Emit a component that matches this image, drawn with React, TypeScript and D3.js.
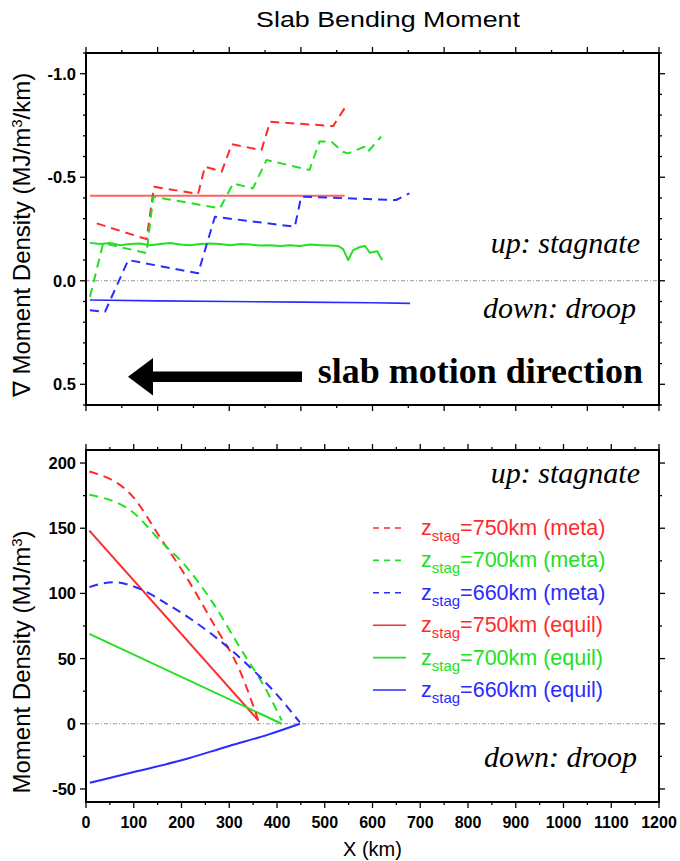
import React from 'react';
import * as d3 from 'd3';

// ---------- data ----------
// Top panel: gradient of moment density (x in plot units 0..1600, y in MJ/m^3/km)
const topRedMetaX = [30, 169, 190, 313, 332, 379, 407, 490, 514, 690, 722];
const topRedMetaY = [-0.277, -0.201, -0.454, -0.419, -0.551, -0.527, -0.66, -0.631, -0.768, -0.747, -0.833];
const topGreenMetaX = [11, 48, 169, 188, 374, 411, 466, 504, 624, 652, 685, 717, 731, 778, 787, 824];
const topGreenMetaY = [0.077, -0.181, -0.134, -0.406, -0.35, -0.47, -0.446, -0.583, -0.535, -0.672, -0.672, -0.623, -0.615, -0.647, -0.623, -0.696];
const topBlueMetaX = [11, 53, 118, 313, 360, 583, 601, 866, 903];
const topBlueMetaY = [0.142, 0.15, -0.1, -0.036, -0.309, -0.261, -0.406, -0.39, -0.422];
const topRedEquilX = [11, 722];
const topRedEquilY = [-0.411, -0.411];
const topGreenEquilX = [11, 39, 67, 95, 123, 151, 179, 207, 235, 263, 291, 318, 346, 374, 402, 430, 458, 486, 514, 542, 570, 598, 626, 654, 682, 704, 718, 732, 746, 765, 779, 793, 813, 827];
const topGreenEquilY = [-0.183, -0.177, -0.182, -0.172, -0.177, -0.18, -0.172, -0.177, -0.182, -0.175, -0.172, -0.177, -0.18, -0.177, -0.172, -0.177, -0.175, -0.17, -0.172, -0.168, -0.172, -0.168, -0.175, -0.172, -0.17, -0.168, -0.153, -0.1, -0.148, -0.163, -0.168, -0.135, -0.143, -0.1];
const topBlueEquilX = [11, 200, 400, 600, 800, 905];
const topBlueEquilY = [0.093, 0.097, 0.1, 0.103, 0.106, 0.109];

// Bottom panel: moment density (x in km, y in MJ/m^3)
const botRedMetaX = [7, 99, 155, 211, 267, 322, 361];
const botRedMetaY = [193.5, 173.8, 143, 112, 76.7, 40.9, 2.5];
const botGreenMetaX = [7, 99, 155, 211, 267, 322, 378, 410];
const botGreenMetaY = [175.6, 162, 140.6, 120, 92, 58.7, 25.5, 2.5];
const botBlueMetaX = [7, 57, 113, 169, 224, 280, 336, 392, 448];
const botBlueMetaY = [104.8, 108.6, 103.5, 92, 79.2, 63.9, 46, 25.5, 1];
const botRedEquilX = [7, 361];
const botRedEquilY = [148.2, 2.5];
const botGreenEquilX = [7, 410];
const botGreenEquilY = [69, 0];
const botBlueEquilX = [8, 100, 200, 300, 380, 448];
const botBlueEquilY = [-45.3, -37, -28, -17, -8.5, 0];

const legendLabels = ['750km (meta)', '700km (meta)', '660km (meta)', '750km (equil)', '700km (equil)', '660km (equil)'];
const legendColors = ['#ff2b2b', '#22e022', '#2b2bff', '#ff2b2b', '#22e022', '#2b2bff'];
const legendDashed = [true, true, true, false, false, false];

const topYTickLabels = [-1.0, -0.5, 0.0, 0.5];
const botYTickLabels = [-50, 0, 50, 100, 150, 200];
const botXTickLabels = [0, 100, 200, 300, 400, 500, 600, 700, 800, 900, 1000, 1100, 1200];

function Series({ xs, ys, x, y, color, dashed, width, smooth }: any) {
  const pts: [number, number][] = xs.map((v: number, i: number) => [v, ys[i]]);
  const line = d3.line<[number, number]>().x(d => x(d[0])).y(d => y(d[1]));
  if (smooth) line.curve(d3.curveMonotoneX);
  return (
    <path d={line(pts) || ''} fill="none" stroke={color} strokeWidth={width || 2}
      strokeDasharray={dashed ? '9,6' : undefined} strokeLinejoin="round" />
  );
}

function Frame({ x, y, left, right, top, bottom, xMinor, xMajor, yMinor, yMajor }: any) {
  const els: any[] = [];
  const tk = (k: string, x1: number, y1: number, x2: number, y2: number) =>
    els.push(<line key={k} x1={x1} y1={y1} x2={x2} y2={y2} stroke="#000" strokeWidth={1.3} />);
  xMinor.forEach((v: number, i: number) => {
    const maj = xMajor.includes(v);
    const len = maj ? 6 : 3;
    tk('xt' + i, x(v), top, x(v), top - len);
    tk('xb' + i, x(v), bottom, x(v), bottom + len);
  });
  yMinor.forEach((v: number, i: number) => {
    const maj = yMajor.some((m: number) => Math.abs(m - v) < 1e-6);
    const len = maj ? 6 : 3;
    tk('yl' + i, left, y(v), left - len, y(v));
    tk('yr' + i, right, y(v), right + len, y(v));
  });
  return (
    <g>
      {els}
      <rect x={left} y={top} width={right - left} height={bottom - top} fill="none" stroke="#000" strokeWidth={2} />
    </g>
  );
}

export default function App() {
  const W = 680, H = 861;
  const L = 86, R = 659;
  const T1 = 53, B1 = 405;
  const T2 = 450, B2 = 802;
  const SANS = '"Liberation Sans", Arial, Helvetica, sans-serif';
  const SERIF = '"Liberation Serif", "Times New Roman", serif';
  const RED = '#ff2b2b';
  const GREEN = '#22e022';
  const BLUE = '#2b2bff';
  const RED_LIGHT = '#ff6262';

  const xTop = d3.scaleLinear().domain([0, 1600]).range([L, R]);
  const yTop = d3.scaleLinear().domain([-1.1, 0.6]).range([T1, B1]);
  const xBot = d3.scaleLinear().domain([0, 1200]).range([L, R]);
  const yBot = d3.scaleLinear().domain([-60, 210]).range([B2, T2]);

  const topXMinor = d3.range(0, 1601, 100);
  const topXMajor = d3.range(0, 1601, 200);
  const topYMinor = d3.range(-11, 7).map(v => v / 10);
  const botXMinor = d3.range(0, 1201, 50);
  const botYMinor = d3.range(-50, 211, 25);

  return (
    <svg width={W} height={H} style={{ position: 'absolute', left: 0, top: 0, background: '#fff' }}
      fontFamily={SANS}>
      <rect width={W} height={H} fill="#fff" />
      <text transform="translate(388,27) scale(1.22,1)" textAnchor="middle" fontSize={22}>Slab Bending Moment</text>

      {/* top panel */}
      <line x1={L} x2={R} y1={yTop(0)} y2={yTop(0)} stroke="#999" strokeWidth={1} strokeDasharray="4,2,1,2" />
      <Series xs={topRedEquilX} ys={topRedEquilY} x={xTop} y={yTop} color={RED_LIGHT} />
      <Series xs={topGreenEquilX} ys={topGreenEquilY} x={xTop} y={yTop} color={GREEN} />
      <Series xs={topBlueEquilX} ys={topBlueEquilY} x={xTop} y={yTop} color={BLUE} width={1.6} />
      <Series xs={topRedMetaX} ys={topRedMetaY} x={xTop} y={yTop} color={RED} dashed />
      <Series xs={topGreenMetaX} ys={topGreenMetaY} x={xTop} y={yTop} color={GREEN} dashed />
      <Series xs={topBlueMetaX} ys={topBlueMetaY} x={xTop} y={yTop} color={BLUE} dashed />
      <Frame x={xTop} y={yTop} left={L} right={R} top={T1} bottom={B1} xMinor={topXMinor} xMajor={topXMajor}
        yMinor={topYMinor} yMajor={topYTickLabels} />
      {topYTickLabels.map(v => (
        <text key={'tyl' + v} x={76} y={yTop(v)} dy="0.36em" textAnchor="end" fontSize={16.5} fontWeight="bold">{v.toFixed(1)}</text>
      ))}
      <text transform={`translate(30,${(T1 + B1) / 2 + 6}) rotate(-90)`} textAnchor="middle" fontSize={24}>
        ∇ Moment Density (MJ/m<tspan dy="-8" fontSize={15}>3</tspan><tspan dy="8">/km)</tspan>
      </text>
      <text x={640} y={253} textAnchor="end" fontFamily={SERIF} fontStyle="italic" fontSize={30}>up: stagnate</text>
      <text x={636} y={318} textAnchor="end" fontFamily={SERIF} fontStyle="italic" fontSize={30}>down: droop</text>
      <text x={643} y={383} textAnchor="end" fontFamily={SERIF} fontWeight="bold" fontSize={36}>slab motion direction</text>
      <rect x={150} y={371.5} width={152} height={10.5} fill="#000" />
      <polygon points="128,376.7 153,358 153,395.5" fill="#000" />

      {/* bottom panel */}
      <line x1={L} x2={R} y1={yBot(0)} y2={yBot(0)} stroke="#999" strokeWidth={1} strokeDasharray="4,2,1,2" />
      <Series xs={botRedEquilX} ys={botRedEquilY} x={xBot} y={yBot} color={RED} />
      <Series xs={botGreenEquilX} ys={botGreenEquilY} x={xBot} y={yBot} color={GREEN} />
      <Series xs={botBlueEquilX} ys={botBlueEquilY} x={xBot} y={yBot} color={BLUE} smooth />
      <Series xs={botRedMetaX} ys={botRedMetaY} x={xBot} y={yBot} color={RED} dashed smooth />
      <Series xs={botGreenMetaX} ys={botGreenMetaY} x={xBot} y={yBot} color={GREEN} dashed smooth />
      <Series xs={botBlueMetaX} ys={botBlueMetaY} x={xBot} y={yBot} color={BLUE} dashed smooth />
      <Frame x={xBot} y={yBot} left={L} right={R} top={T2} bottom={B2} xMinor={botXMinor} xMajor={botXTickLabels}
        yMinor={botYMinor} yMajor={botYTickLabels} />
      {botYTickLabels.map(v => (
        <text key={'byl' + v} x={76} y={yBot(v)} dy="0.36em" textAnchor="end" fontSize={16.5} fontWeight="bold">{v}</text>
      ))}
      {botXTickLabels.map(v => (
        <text key={'bxl' + v} x={xBot(v)} y={828} textAnchor="middle" fontSize={16} fontWeight="bold">{v}</text>
      ))}
      <text x={(L + R) / 2} y={856} textAnchor="middle" fontSize={20}>X (km)</text>
      <text transform="translate(30,662) rotate(-90)" textAnchor="middle" fontSize={24}>
        Moment Density (MJ/m<tspan dy="-8" fontSize={15}>3</tspan><tspan dy="8">)</tspan>
      </text>
      <text x={640} y={483} textAnchor="end" fontFamily={SERIF} fontStyle="italic" fontSize={30}>up: stagnate</text>
      <text x={637} y={767} textAnchor="end" fontFamily={SERIF} fontStyle="italic" fontSize={30}>down: droop</text>

      {legendLabels.map((lab, i) => {
        const yy = 528 + i * 32.4;
        return (
          <g key={'lg' + i}>
            <line x1={373} x2={406} y1={yy} y2={yy} stroke={legendColors[i]} strokeWidth={1.6}
              strokeDasharray={legendDashed[i] ? '6,5' : undefined} />
            <text x={421} y={yy + 7} fontSize={21.5} fill={legendColors[i]}>
              z<tspan dy="6" fontSize={15}>stag</tspan><tspan dy="-6">={lab}</tspan>
            </text>
          </g>
        );
      })}
    </svg>
  );
}
